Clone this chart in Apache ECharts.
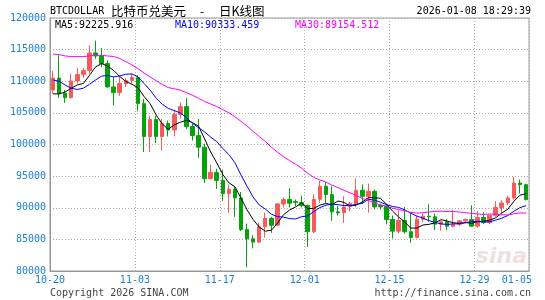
<!DOCTYPE html>
<html><head><meta charset="utf-8">
<script src="https://cdn.jsdelivr.net/npm/echarts@6/dist/echarts.min.js"></script>
<style>html,body{margin:0;padding:0;background:#fff}#c{width:545px;height:300px}</style>
</head><body><div id="c"></div>
<script>
const dates = ['10-20','10-21','10-22','10-23','10-24','10-25','10-26','10-27','10-28','10-29','10-30','10-31',
'11-01','11-02','11-03','11-04','11-05','11-06','11-07','11-08','11-09','11-10','11-11','11-12','11-13','11-14','11-15','11-16','11-17','11-18','11-19','11-20','11-21','11-22','11-23','11-24','11-25','11-26','11-27','11-28','11-29','11-30',
'12-01','12-02','12-03','12-04','12-05','12-06','12-07','12-08','12-09','12-10','12-11','12-12','12-13','12-14','12-15','12-16','12-17','12-18','12-19','12-20','12-21','12-22','12-23','12-24','12-25','12-26','12-27','12-28','12-29','12-30','12-31',
'01-01','01-02','01-03','01-04','01-05','01-06'];
const opens = [108600,110500,108100,107420,110050,111050,111680,114470,114000,112800,109100,108200,109630,110100,110580,106470,101260,103940,101260,103310,102300,104730,105990,102840,101420,99580,94600,95590,94330,92240,92920,91550,86560,85090,84570,86980,88300,87240,90600,91290,90950,90830,90340,86200,91340,93390,92080,89350,89190,90240,90660,92760,91810,92600,90340,90240,88140,86300,87980,86200,85300,88190,88660,88560,87400,87770,87090,87400,87930,88140,87090,88450,87670,88820,90030,90760,91550,93910,93650];
const closes = [110500,108050,107420,110050,111050,111680,114470,114000,112800,109100,108200,109630,110100,110580,106470,101260,103940,101260,103310,102300,104730,105990,102840,101420,99580,94600,95590,94330,92240,92920,91550,86560,85090,84570,86980,88300,87240,90600,91290,90710,90830,90340,86200,91340,93390,92080,89350,89190,90130,90660,92760,91810,92600,90130,90130,88140,86300,87980,86200,85300,88190,88660,88560,87400,87770,87090,87400,87930,88140,87090,88450,87670,88820,90030,90760,91550,93910,93650,91290];
const lows = [108000,107400,106600,107260,109630,110530,111200,113580,112260,109000,106200,107700,109100,109630,105260,98800,98800,100200,99060,101260,101260,104100,102470,100630,97900,93910,94440,92970,91080,89190,88560,86300,80580,83570,84400,85300,86040,87090,90030,90030,90240,90030,83830,86000,90810,90650,87930,88770,87610,89450,90130,90660,89190,89710,89710,87400,85150,85930,85930,84460,85150,87770,87770,86460,86350,86460,86880,87090,87510,86980,86880,87400,87400,88560,89080,90400,91290,92240,91180];
const highs = [111600,114100,108600,111200,112100,112100,115680,116420,115260,113300,110700,110840,110530,111200,110950,107200,104570,104570,104040,103780,105460,106620,107350,103260,104040,100110,96850,96170,96010,93700,93300,92500,87500,85670,87610,89200,88560,90760,91600,93070,91290,91920,90500,92130,94230,94070,93390,90240,91810,90920,94600,93700,93810,92860,90660,90660,88770,89610,90130,89190,88770,89080,90550,89080,87930,88190,89610,88030,88290,90400,89450,89290,88820,91020,91180,91870,94860,94440,93810];
const ma5 = [108000,108000,108300,108900,109410,109650,110930,112250,112800,112410,111710,110750,109970,109520,109000,107610,106470,104700,103250,102410,103110,103520,103830,103460,102910,100890,98810,97100,95270,93940,93330,91520,89670,88140,86950,86300,86440,87540,88880,89630,90130,90750,89870,89880,90420,90670,90470,91070,90830,90280,90420,90910,91590,91590,91490,90560,89460,88540,87750,86780,86790,87270,87380,87620,88120,87900,87640,87520,87670,87530,87800,87860,88030,88410,89150,89770,91010,91980,92226];
const ma10 = [110200,110000,109400,108900,108700,108900,109500,110200,110800,110910,110680,110840,111110,111160,110700,109660,108610,107330,106390,105710,105360,104990,104270,103350,102660,102000,101160,100470,99360,98420,97110,95160,93390,91700,90440,89810,88980,88610,88510,88290,88220,88590,88710,89380,90020,90400,90610,90470,90360,90350,90540,90690,91330,91210,90880,90490,90190,90060,89670,89140,88680,88360,87960,87690,87450,87350,87460,87450,87640,87820,87850,87750,87780,88040,88340,88780,89440,90010,90333];
const ma30 = [114300,114200,114000,113900,113900,113900,114000,114100,114100,114000,113900,113600,113100,112600,112000,111300,110700,110100,109500,109000,108800,108600,108200,107800,107300,106800,106400,106000,105500,105010,104380,103670,102920,102070,101270,100490,99580,98800,98090,97470,96890,96250,95450,94810,94380,94070,93580,93180,92740,92350,91960,91480,91140,90770,90450,90240,89930,89710,89510,89260,89150,89220,89330,89430,89450,89410,89420,89330,89220,89100,89020,88930,89020,88980,88890,88870,89030,89170,89155];
const maLegend = ['MA5:92225.916','MA10:90333.459','MA30:89154.512'];
const xLabelIdx = [0,14,28,42,56,70,77];
const xGridIdx = [14,28,42,56,70];
const yMin = 80000, yMax = 120000, yStep = 5000;

const RED = '#f65b5b', GREEN = '#08a00c', BLUE_TXT = '#1a7fd4';
const MONO = '"DejaVu Sans Mono", "Liberation Mono", monospace';
const CJK = '"Noto Sans CJK SC", sans-serif';

const ohlc = opens.map((o, i) => [o, closes[i], lows[i], highs[i]]);

const chart = echarts.init(document.getElementById('c'), null, {renderer: 'canvas'});
chart.setOption({
  animation: false,
  backgroundColor: '#fff',
  grid: {left: 50, right: 16, top: 18, bottom: 29, show: true, borderColor: '#999', borderWidth: 1, containLabel: false},
  xAxis: {
    type: 'category', data: dates, boundaryGap: true,
    axisLine: {lineStyle: {color: '#999'}},
    axisTick: {show: false},
    axisLabel: {
      interval: (i) => xLabelIdx.indexOf(i) >= 0,
      color: BLUE_TXT, fontFamily: MONO, fontSize: 10, margin: 4,
      padding: [0, 6, 0, 0]
    },
    splitLine: {show: true, interval: (i) => xGridIdx.indexOf(i) >= 0,
      lineStyle: {color: '#aaa', type: [1, 2], width: 1}}
  },
  yAxis: {
    type: 'value', min: yMin, max: yMax, interval: yStep, scale: true,
    axisLine: {show: true, lineStyle: {color: '#999'}},
    axisTick: {show: false},
    axisLabel: {color: BLUE_TXT, fontFamily: MONO, fontSize: 10, margin: 4, padding: [0, 0, 4, 0],
      formatter: (v) => String(v)},
    splitLine: {show: true, lineStyle: {color: '#aaa', type: [1, 2], width: 1}}
  },
  series: [
    {type: 'candlestick', data: ohlc, barWidth: 4,
     itemStyle: {color: RED, color0: GREEN, borderColor: RED, borderColor0: GREEN, borderWidth: 1}},
    {type: 'line', data: ma5, showSymbol: false, symbol: 'none', lineStyle: {color: '#000', width: 1}, z: 5},
    {type: 'line', data: ma10, showSymbol: false, symbol: 'none', lineStyle: {color: '#0000ff', width: 1}, z: 5},
    {type: 'line', data: ma30, showSymbol: false, symbol: 'none', lineStyle: {color: '#ff00ff', width: 1}, z: 5}
  ],
  graphic: [
    {type: 'text', x: 50, y: 11, style: {text: 'BTCDOLLAR', font: '10px ' + MONO, fill: '#000', verticalAlign: 'middle'}},
    {type: 'text', x: 111, y: 11, style: {text: '比特币兑美元', font: '12.5px ' + CJK, fill: '#000', verticalAlign: 'middle'}},
    {type: 'text', x: 200, y: 11, style: {text: '-', font: '12.5px ' + CJK, fill: '#000', verticalAlign: 'middle'}},
    {type: 'text', x: 219, y: 11, style: {text: '日K线图', font: '12.5px ' + CJK, fill: '#000', verticalAlign: 'middle'}},
    {type: 'text', x: 531, y: 11, style: {text: '2026-01-08 18:29:39', font: '10px ' + MONO, fill: '#000', align: 'right', verticalAlign: 'middle'}},
    {type: 'text', x: 55, y: 25, style: {text: maLegend[0], font: '10px ' + MONO, fill: '#000', verticalAlign: 'middle'}},
    {type: 'text', x: 175, y: 25, style: {text: maLegend[1], font: '10px ' + MONO, fill: '#0000ff', verticalAlign: 'middle'}},
    {type: 'text', x: 295, y: 25, style: {text: maLegend[2], font: '10px ' + MONO, fill: '#ff00ff', verticalAlign: 'middle'}},
    {type: 'text', x: 527, y: 257, z: -1, style: {text: 'sina', font: 'italic bold 22px "DejaVu Sans", sans-serif', fill: 'rgba(215,175,175,0.4)', align: 'right', verticalAlign: 'middle'}},
    {type: 'text', x: 50, y: 293, style: {text: 'Copyright 2026 SINA.COM', font: '10px ' + MONO, fill: '#444', verticalAlign: 'middle'}},
    {type: 'text', x: 531, y: 293, style: {text: 'http://finance.sina.com.cn', font: '10px ' + MONO, fill: '#444', align: 'right', verticalAlign: 'middle'}}
  ]
});
</script></body></html>
